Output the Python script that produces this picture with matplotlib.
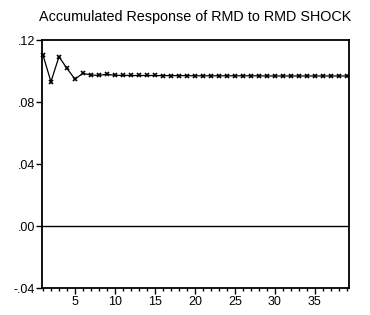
import matplotlib
matplotlib.use("Agg")
import matplotlib.pyplot as plt
from matplotlib.ticker import FixedLocator, MultipleLocator, FuncFormatter

periods = list(range(1, 40))
response = [0.1103, 0.0931, 0.1092, 0.1017, 0.0948, 0.0985, 0.0974, 0.0972, 0.0979, 0.0972,
            0.0972, 0.0971, 0.0971, 0.0971, 0.0971, 0.0970, 0.0970, 0.0970, 0.0970, 0.0969,
            0.0969, 0.0969, 0.0969, 0.0969, 0.0969, 0.0969, 0.0969, 0.0969, 0.0968, 0.0968,
            0.0968, 0.0968, 0.0968, 0.0968, 0.0968, 0.0968, 0.0968, 0.0968, 0.0968]
title = "Accumulated Response of RMD to RMD SHOCK"
yticks = [-0.04, 0.00, 0.04, 0.08, 0.12]
xticks = [5, 10, 15, 20, 25, 30, 35]

plt.rcParams['font.family'] = ['Liberation Sans', 'DejaVu Sans']

fig = plt.figure(figsize=(3.70, 3.15), dpi=100)
ax = fig.add_axes([0.1135, 0.0857, 0.8295, 0.7873])

ax.axhline(0, color='black', linewidth=1.0)
ax.plot(periods, response, color='black', linewidth=0.9, marker='x',
        markersize=3.5, markeredgewidth=1.2, clip_on=False)

ax.set_xlim(0.88, 39.25)
ax.set_ylim(-0.04, 0.12)
ax.xaxis.set_major_locator(FixedLocator(xticks))
ax.xaxis.set_minor_locator(MultipleLocator(1))
ax.yaxis.set_major_locator(FixedLocator(yticks))

def yfmt(v, pos):
    s = f"{v:.2f}"
    return s.replace("0.", ".", 1)
ax.yaxis.set_major_formatter(FuncFormatter(yfmt))

for sp in ax.spines.values():
    sp.set_linewidth(1.3)
ax.tick_params(axis='x', which='major', direction='out', length=4, width=1.0, labelsize=9, pad=2)
ax.tick_params(axis='x', which='minor', direction='out', length=2.5, width=1.0)
ax.tick_params(axis='y', which='major', direction='out', length=4, width=1.0, labelsize=9, pad=1)
ax.tick_params(top=False, right=False)

ax.set_title(title, fontsize=10.4, pad=14)

fig.savefig("out.png", dpi=100)
